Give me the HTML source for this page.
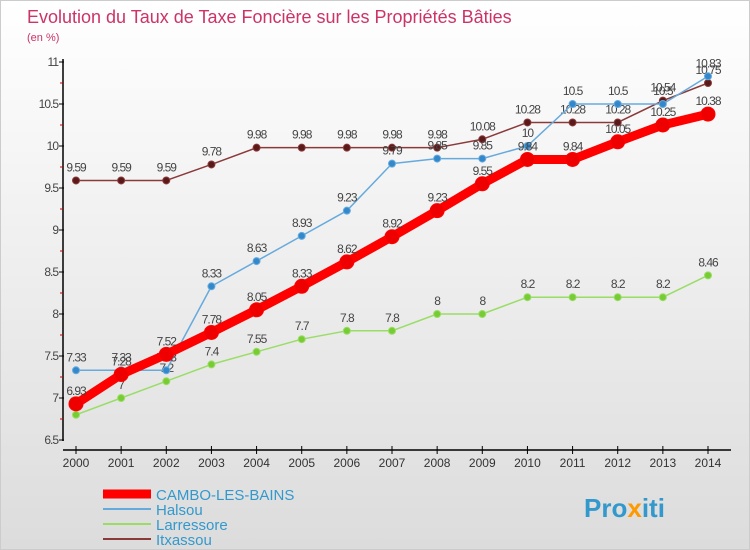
<!DOCTYPE html>
<html><head><meta charset="utf-8"><style>
body{margin:0}
#c{width:750px;height:550px;position:relative;background:linear-gradient(#fff,#dcdcdc);font-family:"Liberation Sans",sans-serif;border:1px solid #ccc;box-sizing:border-box;overflow:hidden}
</style></head><body>
<div id="c">
<svg id="s" width="750" height="550">
<text x="26" y="22" font-size="18" fill="#cc3366">Evolution du Taux de Taxe Foncière sur les Propriétés Bâties</text>
<text x="26" y="40" font-size="11" fill="#cc3366">(en %)</text>
<g id="ax"></g><g id="series"></g>
<text x="583" y="516" font-size="26" font-weight="bold" fill="#3399cc">Pro<tspan fill="#ff9900">x</tspan>iti</text>
</svg>
</div>
<script>
const years=[2000,2001,2002,2003,2004,2005,2006,2007,2008,2009,2010,2011,2012,2013,2014];
const cambo=[6.93,7.28,7.52,7.78,8.05,8.33,8.62,8.92,9.23,9.55,9.84,9.84,10.05,10.25,10.38];
const halsou=[7.33,7.33,7.33,8.33,8.63,8.93,9.23,9.79,9.85,9.85,10,10.5,10.5,10.5,10.83];
const larressore=[6.8,7,7.2,7.4,7.55,7.7,7.8,7.8,8,8,8.2,8.2,8.2,8.2,8.46];
const itxassou=[9.59,9.59,9.59,9.78,9.98,9.98,9.98,9.98,9.98,10.08,10.28,10.28,10.28,10.54,10.75];
const yTicks=[6.5,7,7.5,8,8.5,9,9.5,10,10.5,11];
const NS="http://www.w3.org/2000/svg";
const X=i=>75+i*(707-75)/14, Y=v=>439-(v-6.5)*84;
function mk(t,a,p){const e=document.createElementNS(NS,t);for(const k in a)e.setAttribute(k,a[k]);(p||document.getElementById('series')).appendChild(e);return e;}
const ax=document.getElementById('ax');
let e=mk('line',{x1:62,y1:58,x2:62,y2:440,stroke:'#000','stroke-width':1.5},ax);


e=mk('line',{x1:62,y1:449,x2:730,y2:449,stroke:'#000','stroke-width':1.5},ax);


yTicks.forEach((v,i)=>{mk('line',{x1:58,y1:Y(v),x2:63,y2:Y(v),stroke:'#000'},ax);
 if(i<yTicks.length-1)mk('line',{x1:59,y1:Y(v+0.25),x2:62,y2:Y(v+0.25),stroke:'#c00'},ax);
 const t=mk('text',{x:57,y:Y(v)+4,'font-size':12,fill:'#444','text-anchor':'end','letter-spacing':'-1'},ax);t.textContent=v;
 
 });
years.forEach((y,i)=>{mk('line',{x1:X(i),y1:445,x2:X(i),y2:453,stroke:'#000'},ax);
 const t=mk('text',{x:X(i),y:466,'font-size':12,fill:'#333','text-anchor':'middle'},ax);t.textContent=y;
 
 });
function series(d,col,w,r,name,dark){
 const l=mk('polyline',{points:d.map((v,i)=>X(i)+','+Y(v)).join(' '),fill:'none',stroke:col,'stroke-width':w,'stroke-linejoin':'round'});
 
 
 d.forEach((v,i)=>{const c=mk('circle',{cx:X(i),cy:Y(v),r:r,fill:dark,stroke:col});
  
  
  const t=mk('text',{x:X(i),y:Y(v)-9,'font-size':12,fill:'#444','text-anchor':'middle','letter-spacing':'-1'});t.textContent=v;
  
  });
}
series(itxassou,'#8b3a3a',1.5,3.5,'itxassou','#5a1a1a');
series(larressore,'#99dd66',1.5,3.5,'larressore','#77cc33');
series(halsou,'#66aadd',1.5,3.5,'halsou','#3388cc');
series(cambo,'#ff0000',9,7,'cambo','#ee0000');
const leg=[['CAMBO-LES-BAINS','#ff0000',9],['Halsou','#66aadd',2],['Larressore','#99dd66',2],['Itxassou','#8b3a3a',2]];
leg.forEach((l,i)=>{const y=493+i*15;
 const ln=mk('line',{x1:102,y1:y,x2:150,y2:y,stroke:l[1],'stroke-width':l[2]});
 
 
 const t=mk('text',{x:155,y:y+6,'font-size':15,fill:'#3399cc'});t.textContent=l[0];
 
 });
</script>
</body></html>
